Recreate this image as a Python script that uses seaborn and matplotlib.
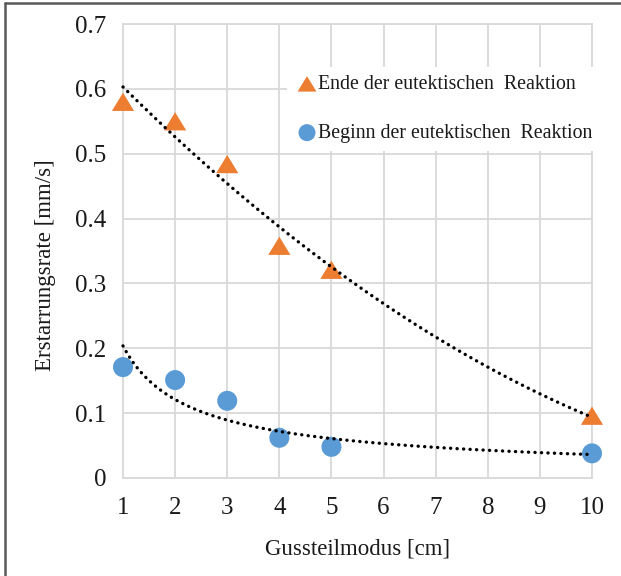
import numpy as np
import pandas as pd
import matplotlib
matplotlib.use("Agg")
import matplotlib.pyplot as plt
from matplotlib.lines import Line2D
import seaborn as sns

# Measured solidification rates per casting modulus
modulus = [1, 2, 3, 4, 5, 10]
ende = [0.58, 0.55, 0.484, 0.358, 0.321, 0.096]
beginn = [0.171, 0.151, 0.119, 0.062, 0.048, 0.038]
label_ende = "Ende der eutektischen  Reaktion"
label_beginn = "Beginn der eutektischen  Reaktion"
x_ticks = [1, 2, 3, 4, 5, 6, 7, 8, 9, 10]
y_ticks = [0, 0.1, 0.2, 0.3, 0.4, 0.5, 0.6, 0.7]
y_tick_labels = ["0", "0.1", "0.2", "0.3", "0.4", "0.5", "0.6", "0.7"]

sns.set_style("white")
plt.rcParams["font.family"] = ["Liberation Serif", "DejaVu Serif"]

ORANGE = "#ED7D31"
BLUE = "#5B9BD5"
GRID = "#D9D9D9"
TEXT = "#1a1a1a"

fig = plt.figure(figsize=(6.21, 5.76), dpi=100)
ax = fig.add_axes([123 / 621, 1 - 478 / 576, (592 - 123) / 621, (478 - 24) / 576])

x = np.array(modulus, dtype=float)
# Trend lines: quadratic for the end of the reaction, power law for its start
xs = np.linspace(1, 10, 200)
quad = np.polyfit(x, np.array(ende), 2)
trend_ende = np.polyval(quad, xs)
b, ln_a = np.polyfit(np.log(x), np.log(np.array(beginn)), 1)
trend_beginn = np.exp(ln_a) * xs ** b

tri = [(-1.0, -0.82), (1.0, -0.82), (0.0, 0.82)]
df_e = pd.DataFrame({"x": x, "y": ende})
df_b = pd.DataFrame({"x": x, "y": beginn})
sns.scatterplot(data=df_e, x="x", y="y", ax=ax, marker=tri, s=16 ** 2, color=ORANGE,
                edgecolor="none", label=label_ende, clip_on=False, zorder=3)
sns.scatterplot(data=df_b, x="x", y="y", ax=ax, marker="o", s=14.4 ** 2, color=BLUE,
                edgecolor="none", label=label_beginn, clip_on=False, zorder=3)

dots = (0, (0.05, 1.9))
sns.lineplot(x=xs, y=trend_ende, ax=ax, color="black", lw=2.4, linestyle=dots,
             dash_capstyle="round", zorder=4, legend=False, clip_on=False)
sns.lineplot(x=xs, y=trend_beginn, ax=ax, color="black", lw=2.4, linestyle=dots,
             dash_capstyle="round", zorder=4, legend=False, clip_on=False)

ax.set_xlim(1, 10)
ax.set_ylim(0, 0.7)
ax.set_xticks(x_ticks)
ax.set_yticks(y_ticks)
ax.set_yticklabels(y_tick_labels)
ax.grid(True, color=GRID, lw=1.3)
ax.set_axisbelow(True)
for s in ax.spines.values():
    s.set_color(GRID)
    s.set_linewidth(1.3)
ax.tick_params(axis="both", which="both", length=4, width=1.3, color=GRID,
               labelsize=18, labelcolor=TEXT)
ax.tick_params(axis="y", pad=8)
ax.tick_params(axis="x", pad=10)
ax.set_xlabel("Gussteilmodus [cm]", fontsize=16.5, labelpad=14, color=TEXT)
ax.set_ylabel("Erstarrungsrate [mm/s]", fontsize=16.5, color=TEXT)
ax.yaxis.set_label_coords(-0.143, 0.469)

handles, labels = ax.get_legend_handles_labels()
leg = ax.legend(handles, labels, loc="upper left", bbox_to_anchor=(0.350, 0.905),
                frameon=True, fancybox=False, fontsize=14.3, markerscale=0.85,
                handletextpad=-0.05, labelspacing=1.5, borderpad=0.4,
                handlelength=1.2, borderaxespad=0)
leg.get_frame().set_facecolor("white")
leg.get_frame().set_edgecolor("none")
leg.get_frame().set_alpha(1)
for t in leg.get_texts():
    t.set_color(TEXT)

# Outer frame lines along the top and left edges
fig.add_artist(Line2D([4.5 / 621, 1], [1 - 2.5 / 576, 1 - 2.5 / 576],
                      transform=fig.transFigure, color="#595959", lw=1.8))
fig.add_artist(Line2D([4.5 / 621, 4.5 / 621], [0, 1 - 2.5 / 576],
                      transform=fig.transFigure, color="#595959", lw=1.8))

fig.savefig("out.png", dpi=100)
